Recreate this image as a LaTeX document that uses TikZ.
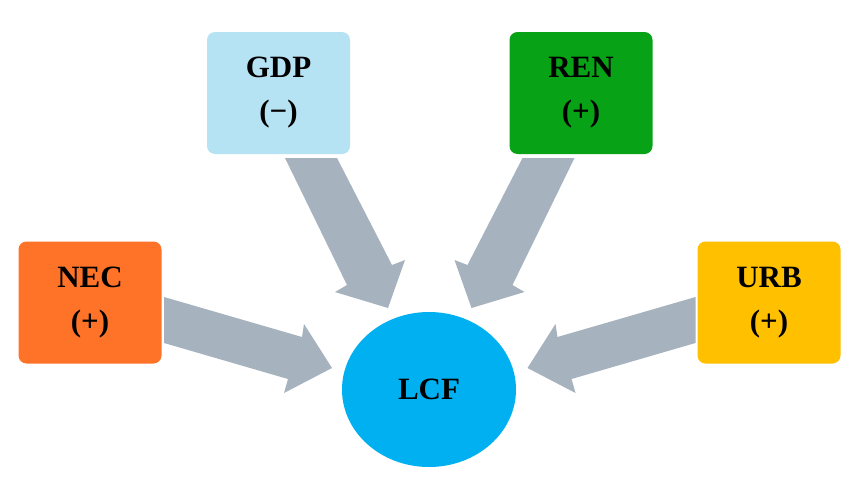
\documentclass[tikz,border=0pt]{standalone}
\usepackage{fontspec}
\setmainfont{Liberation Serif}
\usetikzlibrary{shapes.geometric}
\definecolor{gdpc}{HTML}{B5E3F3}
\definecolor{renc}{HTML}{07A216}
\definecolor{necc}{HTML}{FF7329}
\definecolor{urbc}{HTML}{FFC000}
\definecolor{lcfc}{HTML}{00B0F0}
\definecolor{arrc}{HTML}{A6B3BE}
\tikzset{
  box/.style={rectangle, rounded corners=8pt, minimum width=143pt, minimum height=122pt,
    inner sep=0pt, align=center, font=\fontsize{31}{44}\selectfont\bfseries},
  blockarrow/.style={fill=arrc, draw=none}
}
\begin{document}
\begin{tikzpicture}[x=1pt,y=-1pt]
\useasboundingbox (0,0) rectangle (860,498);
\fill[white] (0,0) rectangle (860,498);
% block arrows
\fill[blockarrow] (285,158) -- (347,285) -- (335,292) -- (388,308) -- (405,260) -- (392,265) -- (337,158) -- cycle;
\fill[blockarrow] (574.5,158) -- (512.5,285) -- (524.5,292) -- (471.5,308) -- (454.5,260) -- (467.5,265) -- (522.5,158) -- cycle;
\fill[blockarrow] (164,297) -- (302,337) -- (304,324) -- (332,368) -- (284,393) -- (288,379) -- (164,343) -- cycle;
\fill[blockarrow] (695.5,297) -- (557.5,337) -- (555.5,324) -- (527.5,368) -- (575.5,393) -- (571.5,379) -- (695.5,343) -- cycle;
% nodes
\node[box, fill=gdpc] (gdp) at (278.5,93) {GDP\\(−)};
\node[box, fill=renc] (ren) at (581,93) {REN\\(+)};
\node[box, fill=necc] (nec) at (90,302.5) {NEC\\(+)};
\node[box, fill=urbc] (urb) at (769,302.5) {URB\\(+)};
\node[ellipse, fill=lcfc, minimum width=174pt, minimum height=155pt, inner sep=0pt,
  font=\fontsize{31}{44}\selectfont\bfseries] (lcf) at (429,389.5) {LCF};
\end{tikzpicture}
\end{document}
